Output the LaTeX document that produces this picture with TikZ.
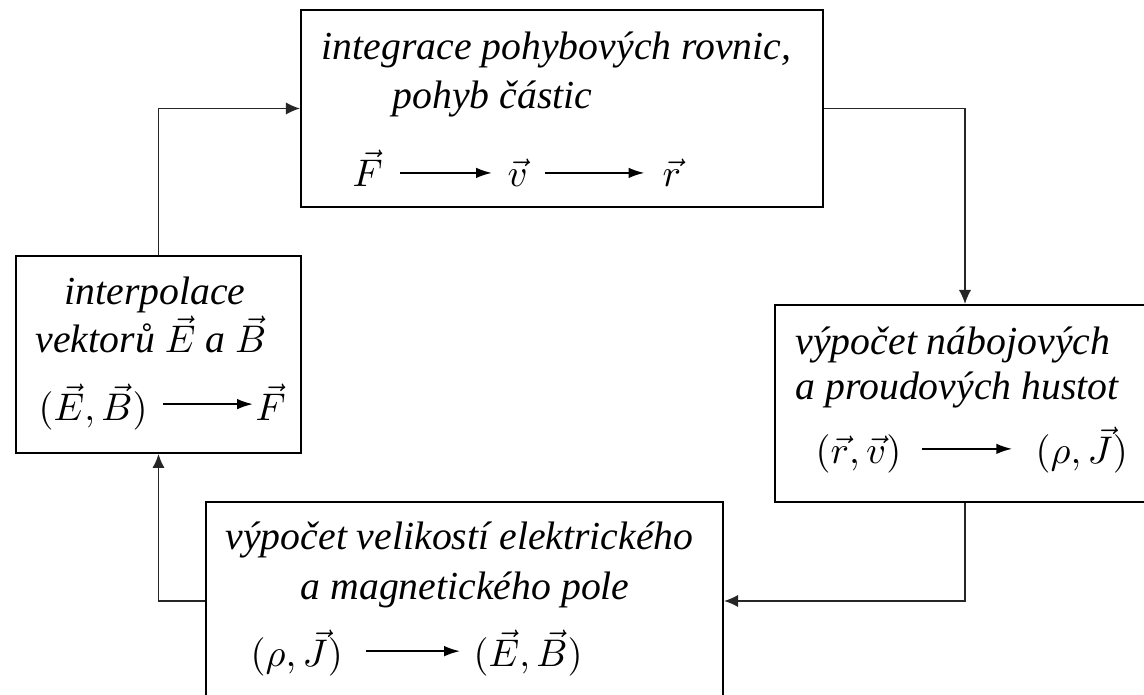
\documentclass[tikz,border=0pt]{standalone}
\usepackage[no-math]{fontspec}
\setmainfont{Liberation Serif}
\usetikzlibrary{arrows.meta}

\begin{document}
\begin{tikzpicture}[
  x=0.01cm, y=-0.01cm,
  every node/.style={font=\fontsize{11.3}{13.7}\selectfont\itshape, inner sep=0pt},
  box/.style={
    draw,
    line width=0.5pt,
    minimum height=1.97cm
  },
  link/.style={-{Latex[length=4pt,width=3.5pt]}, line width=0.45pt, draw=black!85},
  maps/.style={-{Latex[length=4.5pt,width=3pt]}, line width=0.5pt}
]
\clip (0,0) rectangle (1144,695);
% boxes
\node[box, minimum width=5.22cm] (integ) at (562,108.5) {};
\node[box, minimum width=2.85cm] (interp) at (158.5,354.5) {};
\node[box, minimum width=3.80cm] (hust) at (965,403.5) {};
\node[box, minimum width=5.17cm, minimum height=1.98cm] (pole) at (464.5,601) {};
% integrace
\node[anchor=base west] (integA) at (321,60) {integrace pohybových rovnic,};
\node[anchor=base west] (integB) at (392,109) {pohyb částic};
\node[anchor=base west] (integF) at (352,187) {$\vec F$};
\node[anchor=base west] (integV) at (507,187) {$\vec v$};
\node[anchor=base west] (integR) at (662,187) {$\vec r$};
\draw[maps] ([xshift=4.8pt,yshift=4pt]integF.base east) -- ([xshift=-4.3pt,yshift=4pt]integV.base west);
\draw[maps] ([xshift=4.8pt,yshift=4pt]integV.base east) -- ([xshift=-5pt,yshift=4pt]integR.base west);
% interpolace
\node[anchor=base] (interpA) at (155,305) {interpolace};
\node[anchor=base west] (interpB) at (35,353) {vektorů $\vec E$ a $\vec B$};
\node[anchor=base west] (interpEB) at (38,421) {$(\vec E,\vec B)$};
\node[anchor=base west] (interpF) at (255,421) {$\vec F$};
\draw[maps] ([xshift=4.3pt,yshift=4.8pt]interpEB.base east) -- ([xshift=-0.6pt,yshift=4.8pt]interpF.base west);
% hustoty
\node[anchor=base west] (hustA) at (795,355) {výpočet nábojových};
\node[anchor=base west] (hustB) at (795,400) {a proudových hustot};
\node[anchor=base west] (hustRV) at (815,464) {$(\vec r,\vec v)$};
\node[anchor=base west] (hustRJ) at (1035,464) {$(\rho,\vec J)$};
\draw[maps] ([xshift=5.7pt,yshift=4.3pt]hustRV.base east) -- ([xshift=-6.5pt,yshift=4.3pt]hustRJ.base west);
% pole
\node[anchor=base west] (poleA) at (225,550) {výpočet velikostí elektrického};
\node[anchor=base west] (poleB) at (300,600) {a magnetického pole};
\node[anchor=base west] (poleRJ) at (250,667) {$(\rho,\vec J)$};
\node[anchor=base west] (poleEB) at (473,667) {$(\vec E,\vec B)$};
\draw[maps] ([xshift=6.5pt,yshift=4.5pt]poleRJ.base east) -- ([xshift=-3.7pt,yshift=4.5pt]poleEB.base west);
% cyklus
\draw[link] (interp.north) |- (integ.west);
\draw[link] (integ.east) -| (hust.north);
\draw[link] (hust.south) |- (pole.east);
\draw[link] (pole.west) -| (interp.south);
\end{tikzpicture}
\end{document}
